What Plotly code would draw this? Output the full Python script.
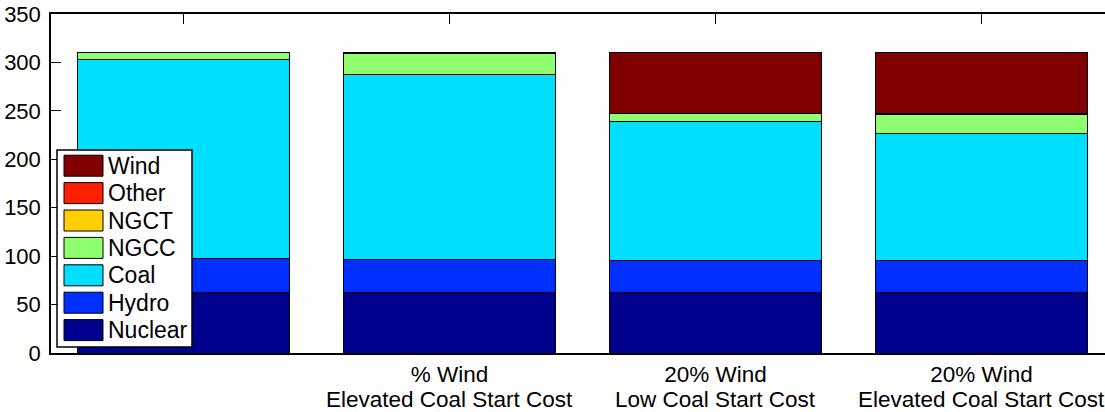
import plotly.graph_objects as go

# ---- data ----
category_line1 = ["", "% Wind", "20% Wind", "20% Wind"]
category_line2 = ["", "Elevated Coal Start Cost", "Low Coal Start Cost", "Elevated Coal Start Cost"]
nuclear = [62.5, 62.5, 62, 62]
hydro = [35, 34.5, 33.5, 33.5]
coal = [205.5, 191, 144, 131.5]
ngcc = [7, 21, 7.5, 19]
ngct = [0, 0, 0, 0]
other = [0, 0, 0, 1]
wind = [0, 1, 63, 63]
y_ticks = [0, 50, 100, 150, 200, 250, 300, 350]

series_names = ["Nuclear", "Hydro", "Coal", "NGCC", "NGCT", "Other", "Wind"]
series_values = [nuclear, hydro, coal, ngcc, ngct, other, wind]
series_colors = ["#00008F", "#0030FF", "#00DFFF", "#8FFF70", "#FFCF00", "#FF2000", "#800000"]

FONT = "Liberation Sans, Arial, Helvetica, sans-serif"

fig = go.Figure()
xs = list(range(len(category_line1)))
for name, vals, col in zip(series_names, series_values, series_colors):
    fig.add_trace(go.Bar(
        x=xs, y=[v if v else None for v in vals], name=name,
        marker=dict(color=col, line=dict(color="black", width=1)),
        width=0.8, showlegend=False,
    ))

# plot-area pixel geometry (for the hand-drawn MATLAB-style legend)
W, H = 1105, 412
L, R, T, B = 51, 1105, 14, 353
def px(x):
    return (x - L) / (R - L)
def py(y):
    return (B - y) / (B - T)

shapes = [dict(type="rect", xref="paper", yref="paper",
               x0=px(57), x1=px(192), y0=py(347), y1=py(150),
               fillcolor="white", line=dict(color="black", width=1.5), layer="above")]
annotations = []
legend_order = list(reversed(series_names))
legend_colors = list(reversed(series_colors))
for i, (name, col) in enumerate(zip(legend_order, legend_colors)):
    cy = 165.7 + 27.4 * i
    shapes.append(dict(type="rect", xref="paper", yref="paper",
                       x0=px(64), x1=px(103), y0=py(cy + 10.5), y1=py(cy - 10.5),
                       fillcolor=col, line=dict(color="black", width=1), layer="above"))
    annotations.append(dict(xref="paper", yref="paper", x=px(106), y=py(cy),
                            xanchor="left", yanchor="middle", text=name, showarrow=False,
                            font=dict(family=FONT, size=23, color="black")))

# second line of the category labels (MATLAB uses tighter line spacing)
for x, txt in zip(xs, category_line2):
    if txt:
        annotations.append(dict(xref="x", yref="paper", x=x, y=py(399.5),
                                xanchor="center", yanchor="middle", text=txt, showarrow=False,
                                borderpad=0,
                                font=dict(family=FONT, size=22.5, color="black")))

fig.update_layout(
    barmode="stack",
    width=W, height=H,
    margin=dict(l=L, r=W - R, t=T, b=H - B, pad=0, autoexpand=False),
    plot_bgcolor="white", paper_bgcolor="white",
    font=dict(family=FONT, size=22, color="black"),
    shapes=shapes, annotations=annotations,
    bargap=0.2,
)
fig.update_xaxes(
    range=[-0.498, 3.464], tickmode="array", tickvals=xs, ticktext=category_line1,
    ticks="inside", ticklen=10, tickcolor="black", showline=True, linecolor="black",
    linewidth=1.5, mirror="ticks", showgrid=False, zeroline=False,
    layer="below traces", ticklabelstandoff=0, automargin=False,
    tickfont=dict(family=FONT, size=22.5, color="black"),
)
fig.update_yaxes(
    range=[0, 350], tickmode="array", tickvals=y_ticks,
    ticks="inside", ticklen=10, tickcolor="black", showline=True, linecolor="black",
    linewidth=1.5, showgrid=False, zeroline=False, layer="below traces",
    automargin=False, ticklabelstandoff=4,
    tickfont=dict(family=FONT, size=22, color="black"),
)

fig.write_html(
    "out.html",
    config={"displayModeBar": False},
    post_script="document.body.style.margin='0';document.body.style.padding='0';"
                "document.body.style.overflow='hidden';",
)
